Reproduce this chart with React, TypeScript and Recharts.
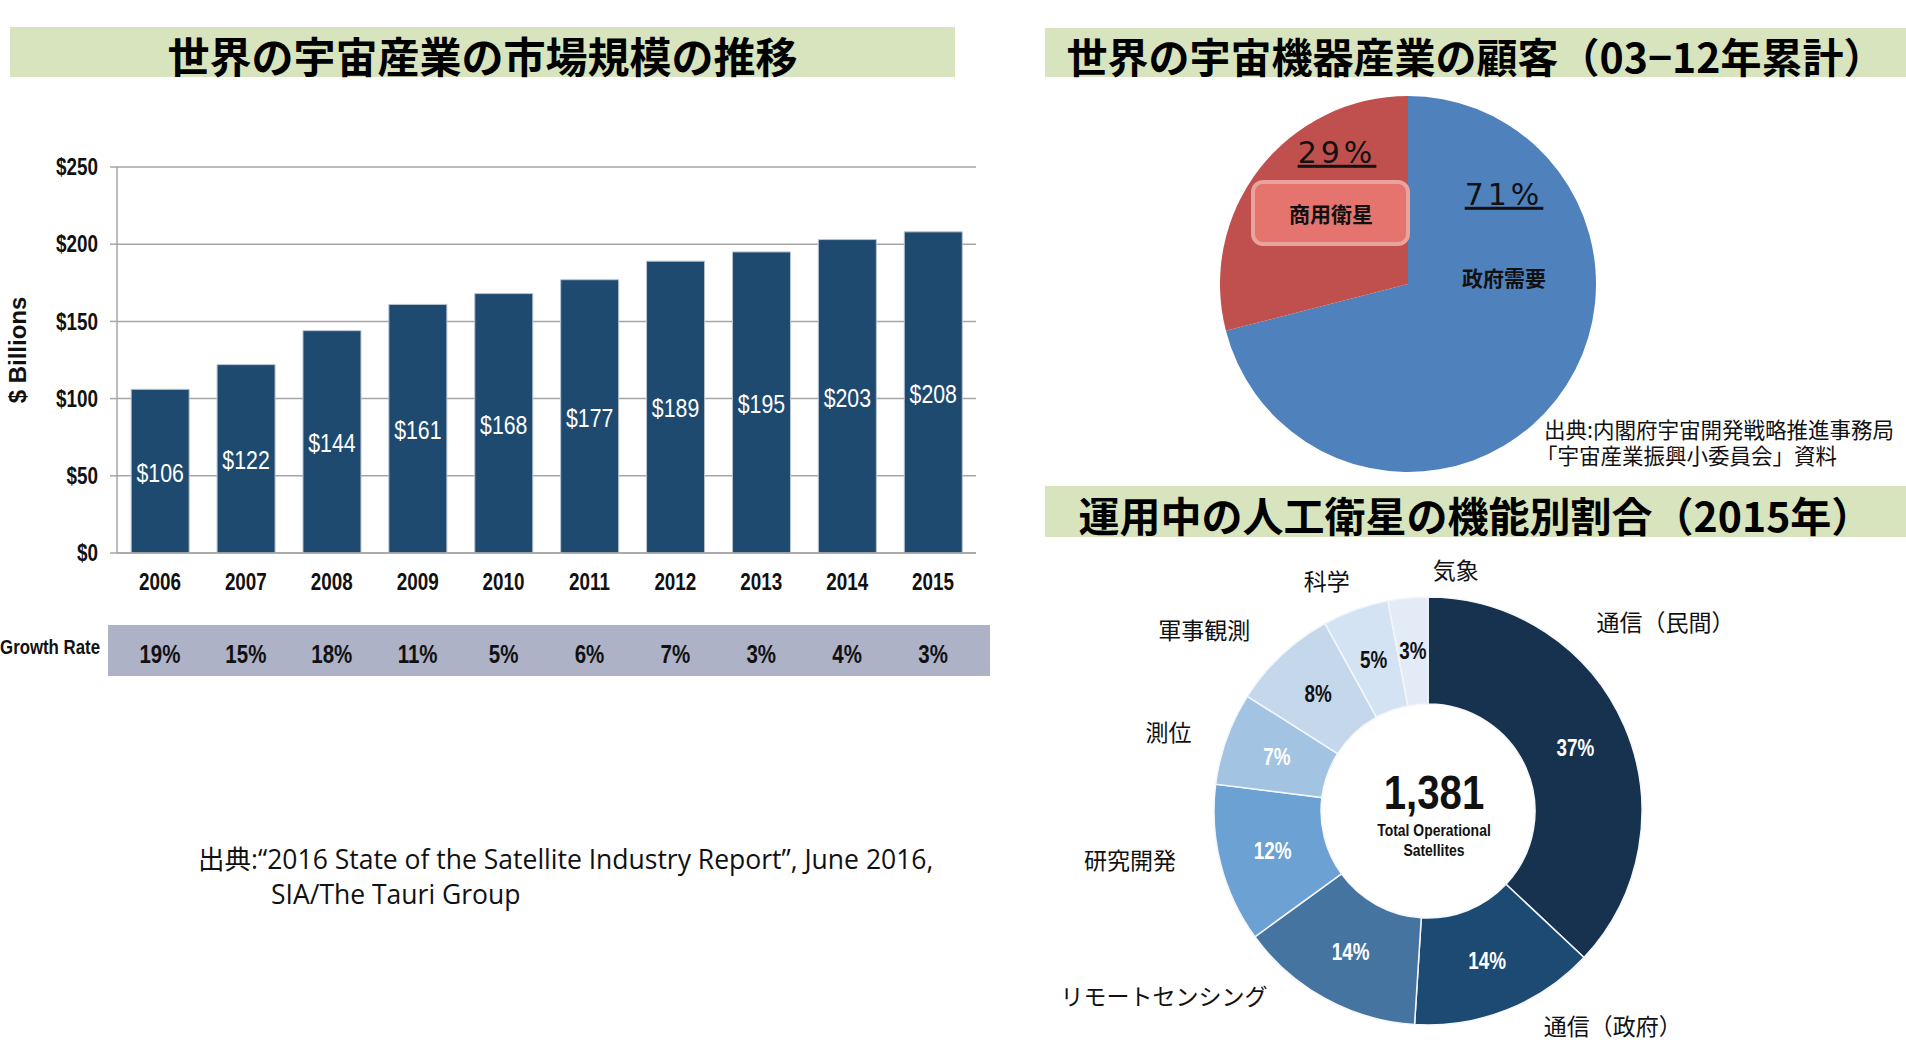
import React from 'react';
import { BarChart, Bar, XAxis, YAxis, CartesianGrid, LabelList, PieChart, Pie, Cell } from 'recharts';

// ---------- data ----------
const years = ['2006', '2007', '2008', '2009', '2010', '2011', '2012', '2013', '2014', '2015'];
const marketValues = [106, 122, 144, 161, 168, 177, 189, 195, 203, 208];
const growthRates = ['19%', '15%', '18%', '11%', '5%', '6%', '7%', '3%', '4%', '3%'];
const yTicks = [0, 50, 100, 150, 200, 250];

const customerNames = ['政府需要', '商用衛星'];
const customerShares = [71, 29];

const functionNames = ['通信（民間）', '通信（政府）', 'リモートセンシング', '研究開発', '測位', '軍事観測', '科学', '気象'];
const functionShares = [37, 14, 14, 12, 7, 8, 5, 3];
const totalSatellites = '1,381';

// ---------- styling ----------
const SANS = "'Liberation Sans',Arial,sans-serif";
const JP = "'Noto Sans CJK JP','Noto Sans CJK SC',sans-serif";
const SX = 0.82; // horizontal squeeze to imitate a narrow face
const GRID = '#a6a6a6';
const BAR = '#1f4a70';
const BANNER = '#d7e4bd';
const customerColors = ['#4f81bd', '#c0504d'];
const functionColors = ['#17324f', '#1c4a72', '#4674a1', '#6ba1d3', '#a3c3e3', '#c5d7ea', '#d4e3f4', '#e3ebf6'];
const functionLabelColors = ['#fff', '#fff', '#fff', '#fff', '#fff', '#111', '#111', '#111'];
// outer label placement: angular shift (deg, clockwise) and extra radius beyond the ring
const functionLabelNudges = [
  { shift: -15, extra: 89 },
  { shift: -19, extra: 70 },
  { shift: 26, extra: 109 },
  { shift: 5, extra: 88 },
  { shift: -3, extra: 57 },
  { shift: -8, extra: 73 },
  { shift: -4, extra: 37 },
  { shift: 12, extra: 28 },
];
// customer pie label offsets from the pie centre
const customerLabelPos: any[] = [
  { pct: [96, -90], name: [96, -6] },
  { pct: [-71, -132], name: [-77, -70], box: [-155, -102, 155, 62] },
];

const barData = years.map((y, i) => ({ year: y, value: marketValues[i] }));
const edgeTicks = [...years.map((_, i) => i), years.length];
const customerData = customerNames.map((n, i) => ({ name: n, value: customerShares[i] }));
const functionData = functionNames.map((n, i) => ({ name: n, value: functionShares[i] }));

const RAD = Math.PI / 180;

const NText = ({ x, y, children, size, weight = 700, fill = '#111', anchor = 'middle', dy = '0.36em' }: any) => (
  <text
    transform={`translate(${x},${y}) scale(${SX},1)`}
    x={0}
    y={0}
    dy={dy}
    textAnchor={anchor}
    fill={fill}
    style={{ fontFamily: SANS, fontWeight: weight, fontSize: size }}
  >
    {children}
  </text>
);

const Txt = ({ x, y, align = 'center', children, style, squeeze }: any) => {
  const tx = align === 'center' ? '-50%' : align === 'right' ? '-100%' : '0';
  const origin = align === 'center' ? 'center center' : align === 'right' ? 'right center' : 'left center';
  return (
    <div
      style={{
        position: 'absolute',
        left: x,
        top: y,
        transform: `translate(${tx},-50%)${squeeze ? ` scaleX(${squeeze})` : ''}`,
        transformOrigin: origin,
        whiteSpace: 'nowrap',
        lineHeight: 1.1,
        ...style,
      }}
    >
      {children}
    </div>
  );
};

const Banner = ({ x, y, w, h, text, size }: any) => (
  <div
    style={{
      position: 'absolute',
      left: x,
      top: y,
      width: w,
      height: h,
      background: BANNER,
      display: 'flex',
      alignItems: 'center',
      justifyContent: 'center',
      fontFamily: JP,
      fontWeight: 700,
      fontSize: size,
      color: '#000',
      whiteSpace: 'nowrap',
      paddingTop: 4,
      boxSizing: 'border-box',
    }}
  >
    {text}
  </div>
);

const YearTick = (props: any) => {
  const { x, y, payload } = props;
  const i = years.indexOf(String(payload.value));
  return (
    <g>
      <NText x={x} y={y + 29} size={23}>
        {payload.value}
      </NText>
      <NText x={x} y={y + 101} size={25}>
        {growthRates[i]}
      </NText>
    </g>
  );
};

const YTick = (props: any) => {
  const { x, y, payload } = props;
  return (
    <NText x={x} y={y} size={23} anchor="end">
      {`$${payload.value}`}
    </NText>
  );
};

const renderBarValue = (p: any) => (
  <NText x={p.x + p.width / 2} y={p.y + p.height / 2} dy="0.4em" size={26} weight={400} fill="#fff">
    {`$${p.value}`}
  </NText>
);

const renderCustomerLabel = (p: any) => {
  const { cx, cy, index, value, name } = p;
  const pos = customerLabelPos[index];
  return (
    <g>
      {pos.box && (
        <rect
          x={cx + pos.box[0]}
          y={cy + pos.box[1]}
          width={pos.box[2]}
          height={pos.box[3]}
          rx={10}
          fill="#e6746e"
          stroke="#e9a29c"
          strokeWidth={4}
        />
      )}
      <text
        x={cx + pos.pct[0]}
        y={cy + pos.pct[1]}
        dy="0.36em"
        textAnchor="middle"
        fill="#111"
        textDecoration="underline"
        style={{ fontFamily: "'DejaVu Sans',sans-serif", fontSize: 30, letterSpacing: 4, textDecoration: 'underline' }}
      >
        {`${value}%`}
      </text>
      <text
        x={cx + pos.name[0]}
        y={cy + pos.name[1]}
        dy="0.36em"
        textAnchor="middle"
        fill="#111"
        style={{ fontFamily: JP, fontWeight: 700, fontSize: 21 }}
      >
        {name}
      </text>
    </g>
  );
};

const renderFunctionLabel = (p: any) => {
  const { cx, cy, midAngle, innerRadius, outerRadius, index, value, name } = p;
  const rMid = (innerRadius + outerRadius) / 2;
  const ix = cx + rMid * Math.cos(-midAngle * RAD);
  const iy = cy + rMid * Math.sin(-midAngle * RAD);
  const nudge = functionLabelNudges[index];
  const theta = (90 - midAngle + nudge.shift) * RAD;
  const r = outerRadius + nudge.extra;
  const ox = cx + r * Math.sin(theta);
  const oy = cy - r * Math.cos(theta);
  return (
    <g>
      <NText x={ix} y={iy} size={23} fill={functionLabelColors[index]}>
        {`${value}%`}
      </NText>
      <text x={ox} y={oy} dy="0.36em" textAnchor="middle" fill="#111" style={{ fontFamily: JP, fontSize: 23 }}>
        {name}
      </text>
      {index === 0 && (
        <g>
          <NText x={cx + 6} y={cy - 20} size={49}>
            {totalSatellites}
          </NText>
          <NText x={cx + 6} y={cy + 19} size={17}>
            Total Operational
          </NText>
          <NText x={cx + 6} y={cy + 39} size={17}>
            Satellites
          </NText>
        </g>
      )}
    </g>
  );
};

const ZERO = { top: 0, right: 0, bottom: 0, left: 0 };

export default function App() {
  return (
    <div style={{ position: 'absolute', left: 0, top: 0, width: 1906, height: 1052, overflow: 'hidden', background: '#fff' }}>
      <Banner x={10} y={27} w={945} h={50} size={42} text="世界の宇宙産業の市場規模の推移" />
      <Banner x={1045} y={28} w={861} h={49} size={41} text="世界の宇宙機器産業の顧客（03−12年累計）" />
      <Banner x={1045} y={486} w={861} h={51} size={41} text="運用中の人工衛星の機能別割合（2015年）" />

      {/* growth band */}
      <div style={{ position: 'absolute', left: 108, top: 625, width: 882, height: 51, background: '#adb2c7' }} />
      <Txt x={100} y={647} align="right" squeeze={SX} style={{ fontFamily: SANS, fontWeight: 700, fontSize: 20.5, color: '#111' }}>
        Growth Rate
      </Txt>
      <Txt x={18} y={350} style={{ fontFamily: SANS, fontWeight: 700, fontSize: 24, color: '#111', transform: 'translate(-50%,-50%) rotate(-90deg)' }}>
        $ Billions
      </Txt>

      <div style={{ position: 'absolute', left: 0, top: 0 }}>
        <BarChart width={1000} height={700} data={barData} margin={{ top: 167, right: 24, bottom: 107, left: 0 }} barCategoryGap="16.5%">
          <CartesianGrid xAxisId="cat" vertical={false} stroke={GRID} strokeWidth={1.5} />
          <XAxis
            xAxisId="edge"
            type="number"
            domain={[0, years.length]}
            ticks={edgeTicks}
            allowDataOverflow
            height={0}
            tick={false}
            axisLine={false}
            tickLine={{ stroke: GRID, strokeWidth: 1.5 }}
            tickSize={7}
          />
          <XAxis
            xAxisId="cat"
            dataKey="year"
            height={40}
            interval={0}
            axisLine={{ stroke: GRID, strokeWidth: 1.5 }}
            tickLine={false}
            tickSize={0}
            tickMargin={0}
            tick={<YearTick />}
          />
          <YAxis
            width={117}
            domain={[0, 250]}
            ticks={yTicks}
            interval={0}
            axisLine={{ stroke: GRID, strokeWidth: 1.5 }}
            tickLine={{ stroke: GRID, strokeWidth: 1.5 }}
            tickSize={7}
            tickMargin={12}
            tick={<YTick />}
          />
          <Bar xAxisId="cat" dataKey="value" fill={BAR} stroke="#b9c3d1" strokeWidth={1} isAnimationActive={false}>
            <LabelList dataKey="value" content={renderBarValue} />
          </Bar>
        </BarChart>
      </div>

      <Txt x={198} y={860} align="left" style={{ fontFamily: "'Open Sans','Noto Sans CJK JP',sans-serif", fontSize: 26.5, color: '#111' }}>
        出典:“2016 State of the Satellite Industry Report”, June 2016,
      </Txt>
      <Txt x={271} y={895} align="left" style={{ fontFamily: "'Open Sans','Noto Sans CJK JP',sans-serif", fontSize: 26.5, color: '#111' }}>
        SIA/The Tauri Group
      </Txt>

      <div style={{ position: 'absolute', left: 1045, top: 80 }}>
        <PieChart width={861} height={400} margin={ZERO}>
          <Pie
            data={customerData}
            dataKey="value"
            nameKey="name"
            cx={363}
            cy={204}
            outerRadius={188}
            startAngle={90}
            endAngle={-270}
            stroke="none"
            labelLine={false}
            label={renderCustomerLabel}
            isAnimationActive={false}
          >
            {customerData.map((d, i) => (
              <Cell key={d.name} fill={customerColors[i]} />
            ))}
          </Pie>
        </PieChart>
      </div>
      <Txt x={1544} y={429} align="left" style={{ fontFamily: JP, fontSize: 21.5, color: '#111' }}>
        出典:内閣府宇宙開発戦略推進事務局
      </Txt>
      <Txt x={1536} y={455} align="left" style={{ fontFamily: JP, fontSize: 21.5, color: '#111' }}>
        「宇宙産業振興小委員会」資料
      </Txt>

      <div style={{ position: 'absolute', left: 1045, top: 540 }}>
        <PieChart width={861} height={512} margin={ZERO}>
          <Pie
            data={functionData}
            dataKey="value"
            nameKey="name"
            cx={383}
            cy={271}
            innerRadius={107}
            outerRadius={214}
            startAngle={90}
            endAngle={-270}
            stroke="#f4f6fa"
            strokeWidth={1.5}
            labelLine={false}
            label={renderFunctionLabel}
            isAnimationActive={false}
          >
            {functionData.map((d, i) => (
              <Cell key={d.name} fill={functionColors[i]} />
            ))}
          </Pie>
        </PieChart>
      </div>
    </div>
  );
}
